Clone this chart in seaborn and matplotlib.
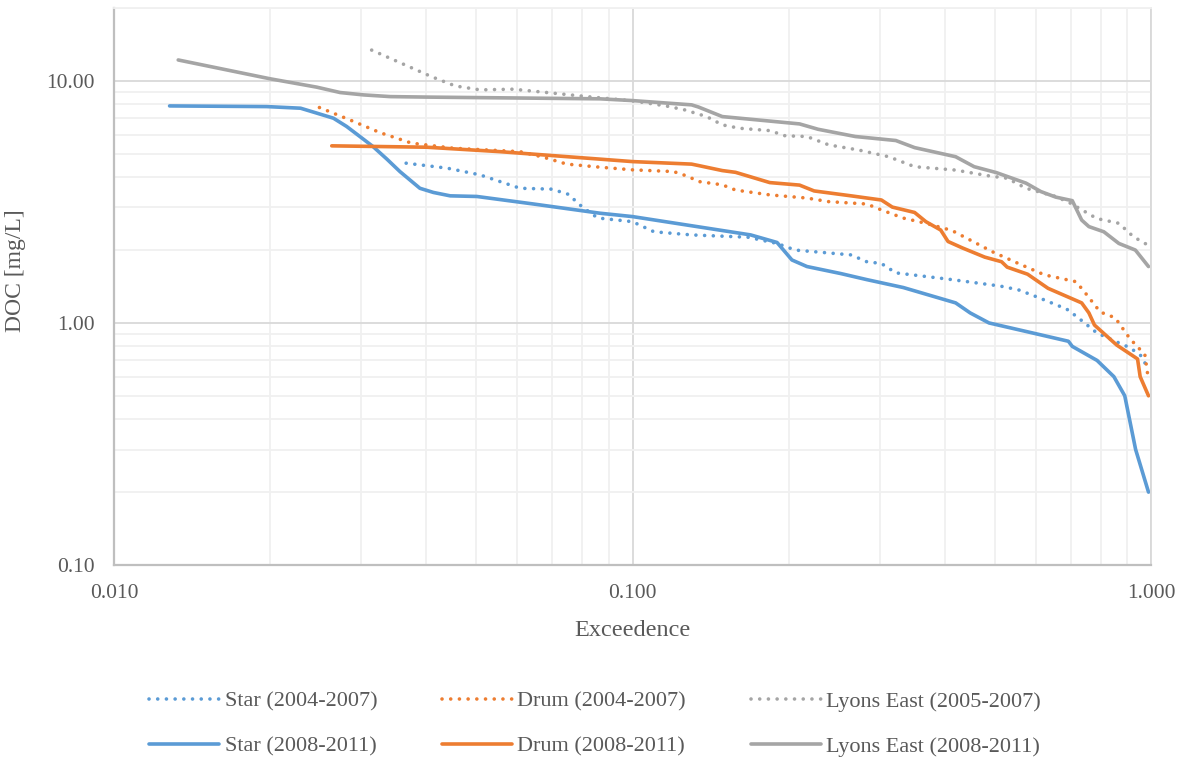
import numpy as np
import pandas as pd
import matplotlib
matplotlib.use('Agg')
import matplotlib.pyplot as plt
import matplotlib.ticker as mticker
import seaborn as sns

# exceedence / DOC values
star_0407_x = [0.0366, 0.0439, 0.0508, 0.0607, 0.0699, 0.0752, 0.0792, 0.0840, 0.0862, 0.100, 0.110, 0.130,
               0.167, 0.190, 0.206, 0.264, 0.283, 0.302, 0.322, 0.413, 0.512, 0.555, 0.603, 0.688, 0.720,
               0.786, 0.853, 0.911, 0.958, 0.989]
star_0407_y = [4.57, 4.36, 4.09, 3.60, 3.57, 3.40, 3.07, 2.79, 2.71, 2.62, 2.38, 2.31,
               2.26, 2.13, 2.00, 1.91, 1.79, 1.76, 1.61, 1.51, 1.42, 1.37, 1.28, 1.14, 1.06,
               0.91, 0.84, 0.79, 0.73, 0.64]

star_0811_x = [0.0128, 0.0197, 0.0229, 0.0246, 0.0265, 0.0281, 0.0298, 0.0316, 0.0336, 0.0356, 0.0372, 0.0389,
               0.0413, 0.0445, 0.0501, 0.0644, 0.0865, 0.100,
               0.169, 0.190, 0.203, 0.217, 0.252, 0.283, 0.333, 0.420, 0.448, 0.487, 0.603, 0.693,
               0.705, 0.787, 0.848, 0.890, 0.934, 0.989]
star_0811_y = [7.88, 7.83, 7.71, 7.36, 7.01, 6.48, 5.89, 5.35, 4.75, 4.22, 3.90, 3.60,
               3.46, 3.35, 3.33, 3.10, 2.84, 2.75,
               2.31, 2.15, 1.82, 1.71, 1.60, 1.51, 1.40, 1.21, 1.10, 1.00, 0.90, 0.84,
               0.80, 0.70, 0.60, 0.50, 0.30, 0.20]

drum_0407_x = [0.0249, 0.0285, 0.0326, 0.0375, 0.0451, 0.0607, 0.0673, 0.0747, 0.0865, 0.100, 0.120, 0.128,
               0.134, 0.149, 0.158, 0.184, 0.217, 0.239, 0.283, 0.302, 0.333, 0.368, 0.413, 0.448,
               0.494, 0.555, 0.623, 0.717, 0.747, 0.798, 0.853, 0.911, 0.973, 0.989]
drum_0407_y = [7.76, 6.90, 6.11, 5.53, 5.27, 5.10, 4.84, 4.53, 4.40, 4.29, 4.22, 4.03,
               3.84, 3.72, 3.54, 3.38, 3.28, 3.17, 3.10, 2.93, 2.71, 2.58, 2.41, 2.20,
               1.97, 1.76, 1.58, 1.48, 1.33, 1.11, 1.05, 0.86, 0.74, 0.58]

drum_0811_x = [0.0263, 0.0401, 0.0555, 0.0865, 0.100, 0.130, 0.134, 0.149, 0.158, 0.184, 0.210, 0.224,
               0.264, 0.302, 0.317, 0.350, 0.368, 0.393, 0.406, 0.433, 0.478, 0.515, 0.528, 0.578,
               0.633, 0.735, 0.759, 0.778, 0.859, 0.942, 0.953, 0.989]
drum_0811_y = [5.39, 5.32, 5.10, 4.75, 4.64, 4.53, 4.47, 4.26, 4.19, 3.80, 3.71, 3.51,
               3.35, 3.22, 3.01, 2.86, 2.62, 2.42, 2.17, 2.04, 1.87, 1.79, 1.70, 1.59,
               1.39, 1.21, 1.10, 0.98, 0.81, 0.71, 0.60, 0.50]

lyons_0507_x = [0.0314, 0.0359, 0.0410, 0.0455, 0.0508, 0.0589, 0.0684, 0.0817, 0.100, 0.116, 0.126, 0.139,
                0.149, 0.161, 0.184, 0.197, 0.217, 0.239, 0.273, 0.312, 0.350, 0.420, 0.487, 0.528,
                0.574, 0.655, 0.700, 0.786, 0.867, 0.925, 0.989]
lyons_0507_y = [13.4, 11.8, 10.4, 9.53, 9.18, 9.24, 8.95, 8.61, 8.27, 7.88, 7.59, 7.12,
                6.58, 6.37, 6.23, 5.93, 5.89, 5.44, 5.18, 4.86, 4.42, 4.28, 4.05, 3.96,
                3.60, 3.33, 3.12, 2.70, 2.58, 2.27, 2.09]

lyons_0811_x = [0.0133, 0.020, 0.0246, 0.0273, 0.0303, 0.0341, 0.0401, 0.0865, 0.100, 0.130, 0.134, 0.149,
                0.210, 0.228, 0.269,
                0.322, 0.350, 0.420, 0.456, 0.503, 0.574, 0.613, 0.655, 0.705, 0.735, 0.759, 0.811,
                0.867, 0.933, 0.989]
lyons_0811_y = [12.2, 10.2, 9.42, 8.95, 8.75, 8.61, 8.57, 8.43, 8.29, 7.96, 7.80, 7.12,
                6.64, 6.31, 5.89,
                5.67, 5.30, 4.86, 4.42, 4.18, 3.78, 3.49, 3.31, 3.20, 2.66, 2.50, 2.38,
                2.13, 2.00, 1.71]

blue = '#5B9BD5'
orange = '#ED7D31'
grey = '#A5A5A5'
txt = '#595959'

series = [
    ('Star (2004-2007)', star_0407_x, star_0407_y, blue, 'dot'),
    ('Star (2008-2011)', star_0811_x, star_0811_y, blue, 'solid'),
    ('Drum (2004-2007)', drum_0407_x, drum_0407_y, orange, 'dot'),
    ('Drum (2008-2011)', drum_0811_x, drum_0811_y, orange, 'solid'),
    ('Lyons East (2005-2007)', lyons_0507_x, lyons_0507_y, grey, 'dot'),
    ('Lyons East (2008-2011)', lyons_0811_x, lyons_0811_y, grey, 'solid'),
]

sns.set_theme(style='white')
plt.rcParams['font.family'] = ['Liberation Serif', 'DejaVu Serif']

fig = plt.figure(figsize=(11.83, 7.57), dpi=100)
ax = fig.add_axes([114 / 1183, 1 - 565 / 757, (1151 - 114) / 1183, (565 - 8) / 757])

for name, xs, ys, color, style in series:
    df = pd.DataFrame({'x': xs, 'y': ys})
    before = len(ax.lines)
    sns.lineplot(data=df, x='x', y='y', ax=ax, color=color, sort=False, estimator=None,
                 linewidth=2.6, label=name)
    line = ax.lines[before]
    if style == 'dot':
        line.set_linestyle((0, (0.01, 2.4)))
        line.set_dash_capstyle('round')
    else:
        line.set_solid_capstyle('round')
        line.set_solid_joinstyle('round')

ax.set_xscale('log')
ax.set_yscale('log')
ax.set_xlim(0.01, 1.0)
ax.set_ylim(0.1, 20)

ax.xaxis.set_major_locator(mticker.FixedLocator([0.01, 0.1, 1.0]))
ax.xaxis.set_major_formatter(mticker.FormatStrFormatter('%.3f'))
ax.yaxis.set_major_locator(mticker.FixedLocator([0.1, 1.0, 10.0]))
ax.yaxis.set_major_formatter(mticker.FormatStrFormatter('%.2f'))
ax.xaxis.set_minor_locator(mticker.LogLocator(base=10, subs=np.arange(2, 10)))
ax.yaxis.set_minor_locator(mticker.LogLocator(base=10, subs=np.arange(2, 10)))
ax.xaxis.set_minor_formatter(mticker.NullFormatter())
ax.yaxis.set_minor_formatter(mticker.NullFormatter())

ax.grid(True, which='major', color='#D9D9D9', linewidth=1.3)
ax.grid(True, which='minor', color='#F0F0F0', linewidth=1.3)
ax.set_axisbelow(True)

ax.tick_params(axis='both', which='both', length=0, pad=14, labelsize=15.5, labelcolor=txt)

for side in ['left', 'bottom']:
    ax.spines[side].set_color('#BFBFBF')
    ax.spines[side].set_linewidth(1.6)
ax.spines['top'].set_color('#F0F0F0')
ax.spines['top'].set_linewidth(1.3)
ax.spines['right'].set_color('#D9D9D9')
ax.spines['right'].set_linewidth(1.3)

ax.set_xlabel('Exceedence', fontsize=17.5, color=txt, labelpad=12)
ax.set_ylabel('DOC [mg/L]', fontsize=17, color=txt)
ax.yaxis.set_label_coords(-0.085, 0.528)

ax.get_legend().remove()
handles, labels = ax.get_legend_handles_labels()
leg = fig.legend(handles, labels, loc='lower center', bbox_to_anchor=(0.503, -0.026), ncol=3,
                 frameon=False, fontsize=16, handlelength=3.15, handletextpad=0.25,
                 columnspacing=2.9, labelspacing=1.1)
for t in leg.get_texts():
    t.set_color(txt)

fig.savefig('out.png', dpi=100)
